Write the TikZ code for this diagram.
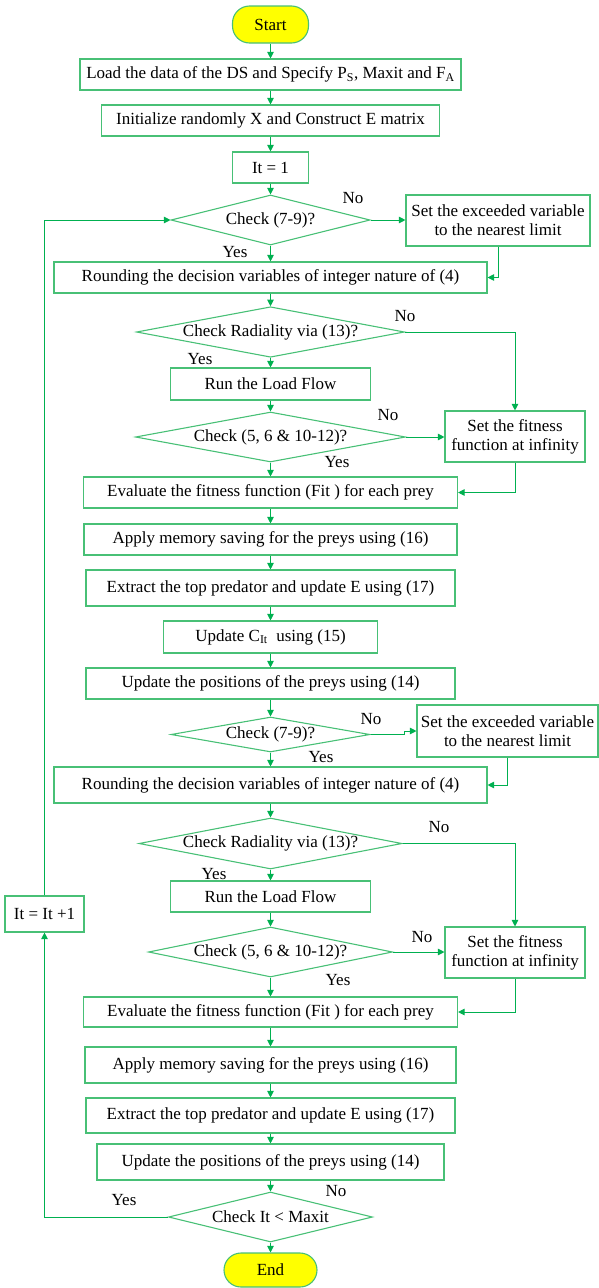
\documentclass[tikz,border=0pt]{standalone}
\usepackage{fontspec}
\setmainfont{Liberation Serif}
\usetikzlibrary{shapes.geometric,arrows.meta}
\definecolor{boxgreen}{RGB}{72,192,118}
\definecolor{arrowgreen}{RGB}{0,176,80}
\definecolor{termyellow}{RGB}{255,255,0}
\begin{document}
\begin{tikzpicture}[x=1pt,y=-1pt,
  every node/.style={font=\fontsize{17}{19}\selectfont},
  wh/.style 2 args={minimum width=#1pt,minimum height=#2pt},
  proc/.style={draw=boxgreen,line width=1.1pt,rectangle,inner sep=0pt,align=center},
  term/.style={proc,fill=termyellow,rounded corners=17pt},
  dec/.style={draw=boxgreen,line width=1.1pt,diamond,aspect=5,inner sep=0pt},
  flow/.style={draw=arrowgreen,line width=0.9pt,-{Triangle[length=6.5pt,width=6.5pt]}},
  lbl/.style={inner sep=1pt}]
\useasboundingbox (0,0) rectangle (599,1288);

% main column
\node[term,wh={76}{37}] (start) at (270.5,24.5) {Start};
\node[proc,wh={381}{31}] (load) at (270.5,74.5) {Load the data of the DS and Specify P\textsubscript{S}, Maxit and F\textsubscript{A}};
\node[proc,wh={338}{31}] (init) at (270.5,120.5) {Initialize randomly X and Construct E matrix};
\node[proc,wh={76}{31}] (it1) at (270.5,167.5) {It = 1};
\node[dec,wh={199}{50}] (chk1) at (270.5,220) {Check (7-9)?};
\node[proc,wh={433}{31}] (round1) at (270.5,277.5) {Rounding the decision variables of integer nature of (4)};
\node[dec,wh={268}{50}] (rad1) at (270.5,332) {Check Radiality via (13)?};
\node[proc,wh={200}{32}] (lf1) at (270.5,384) {Run the Load Flow};
\node[dec,wh={270}{50}] (cons1) at (270.5,437) {Check (5, 6 \& 10-12)?};
\node[proc,wh={374}{31}] (eval1) at (270.5,492.5) {Evaluate the fitness function (Fit ) for each prey};
\node[proc,wh={373}{31}] (mem1) at (270.5,539.5) {Apply memory saving for the preys using (16)};
\node[proc,wh={369}{36}] (extr1) at (270.5,588) {Extract the top predator and update E using (17)};
\node[proc,wh={214}{32}] (upc) at (270.5,637) {Update C\textsubscript{It}\ \ using (15)};
\node[proc,wh={369}{31}] (pos1) at (270.5,683.5) {Update the positions of the preys using (14)};
\node[dec,wh={199}{35}] (chk2) at (270.5,734.5) {Check (7-9)?};
\node[proc,wh={433}{36}] (round2) at (270.5,785) {Rounding the decision variables of integer nature of (4)};
\node[dec,wh={263}{51}] (rad2) at (270.5,843.5) {Check Radiality via (13)?};
\node[proc,wh={200}{31}] (lf2) at (270.5,896.5) {Run the Load Flow};
\node[dec,wh={244}{50}] (cons2) at (270.5,952) {Check (5, 6 \& 10-12)?};
\node[proc,wh={374}{30}] (eval2) at (270.5,1012) {Evaluate the fitness function (Fit ) for each prey};
\node[proc,wh={371}{36}] (mem2) at (270.5,1065) {Apply memory saving for the preys using (16)};
\node[proc,wh={369}{35}] (extr2) at (270.5,1115.5) {Extract the top predator and update E using (17)};
\node[proc,wh={347}{36}] (pos2) at (270.5,1162) {Update the positions of the preys using (14)};
\node[dec,wh={204}{50}] (chkmax) at (270.5,1217) {Check It < Maxit};
\node[term,wh={93}{34}] (end) at (270.5,1270) {End};

% side boxes
\node[proc,wh={184}{51}] (fixa) at (498,220.5) {Set the exceeded variable\\to the nearest limit};
\node[proc,wh={140}{51}] (fit1) at (515,436.5) {Set the fitness\\function at infinity};
\node[proc,wh={181}{52}] (fixb) at (507.5,731) {Set the exceeded variable\\to the nearest limit};
\node[proc,wh={140}{51}] (fit2) at (515,952.5) {Set the fitness\\function at infinity};
\node[proc,wh={79}{36}] (inc) at (44.5,914) {It = It +1};

% branch labels
\node[lbl] (no1) at (353,198) {No};
\node[lbl] (yes1) at (235,252) {Yes};
\node[lbl] (no2) at (405,316) {No};
\node[lbl] (yes2) at (200,359) {Yes};
\node[lbl] (no3) at (388,415) {No};
\node[lbl] (yes3) at (337,462) {Yes};
\node[lbl] (no4) at (371,719) {No};
\node[lbl] (yes4) at (321,757) {Yes};
\node[lbl] (no5) at (439,827) {No};
\node[lbl] (yes5) at (214,874) {Yes};
\node[lbl] (no6) at (422,937) {No};
\node[lbl] (yes6) at (338,980) {Yes};
\node[lbl] (no7) at (336,1191) {No};
\node[lbl] (yes7) at (124,1200) {Yes};

% main flow
\foreach \a/\b in {start/load,load/init,init/it1,it1/chk1,chk1/round1,round1/rad1,
  rad1/lf1,lf1/cons1,cons1/eval1,eval1/mem1,mem1/extr1,extr1/upc,upc/pos1,pos1/chk2,
  chk2/round2,round2/rad2,rad2/lf2,lf2/cons2,cons2/eval2,eval2/mem2,mem2/extr2,
  extr2/pos2,pos2/chkmax,chkmax/end}
  \draw[flow] (\a) -- (\b);

% first pass branches
\draw[flow] (chk1.east) -- (chk1.east -| fixa.west);
\draw[flow] (fixa.south) |- (round1.east);
\draw[flow] (rad1.east) -| (fit1.north);
\draw[flow] (cons1.east) -- (cons1.east -| fit1.west);
\draw[flow] (fit1.south) |- (eval1.east);

% second pass branches
\draw[flow] (chk2.east) -- ++(34,0) |- (fixb.west);
\draw[flow] (fixb.south) |- (round2.east);
\draw[flow] (rad2.east) -| (fit2.north);
\draw[flow] (cons2.east) -- (cons2.east -| fit2.west);
\draw[flow] (fit2.south) |- (eval2.east);

% iteration loop
\draw[flow] (chkmax.west) -| (inc.south);
\draw[flow] (inc.north) |- (chk1.west);
\end{tikzpicture}
\end{document}
